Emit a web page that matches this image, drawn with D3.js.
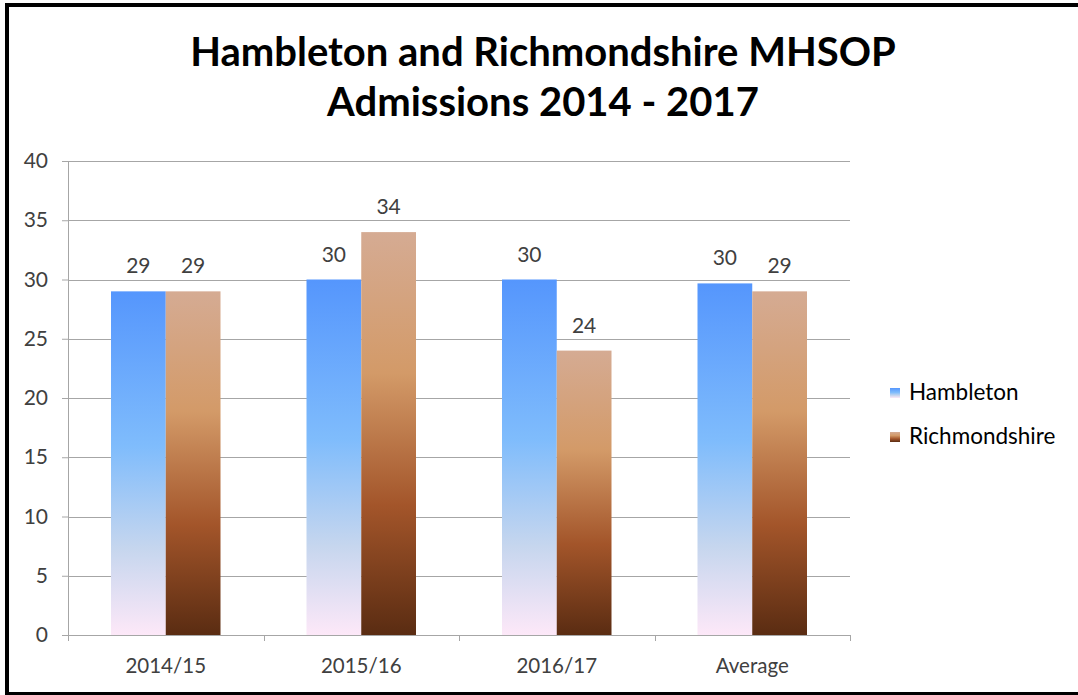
<!DOCTYPE html>
<html>
<head>
<meta charset="utf-8">
<script src="https://cdn.jsdelivr.net/npm/d3@7"></script>
<style>
  body { margin: 0; background: #fff; }
  svg text { font-family: Lato, "Open Sans", sans-serif; }
</style>
</head>
<body>
<div id="chart"></div>
<script>
// カテゴリと系列
var categories = ['2014/15', '2015/16', '2016/17', 'Average'];
var seriesNames = ['Hambleton', 'Richmondshire'];
var hambleton = [29, 30, 30, 29.67];
var richmondshire = [29, 34, 24, 29];
var yTicks = [0, 5, 10, 15, 20, 25, 30, 35, 40];
var titleLines = ['Hambleton and Richmondshire MHSOP', 'Admissions 2014 - 2017'];

var width = 1078;
var height = 695;
var margin = { top: 161, right: 228, bottom: 60, left: 68 };
var w = width - margin.left - margin.right;
var h = height - margin.top - margin.bottom;

var svg = d3.select('#chart').append('svg')
  .attr('width', width)
  .attr('height', height);

// グラデーション定義
var defs = svg.append('defs');
var gradStops = {
  Hambleton: [
    ['0%', '#5596fd'], ['45%', '#7fbcfc'], ['75%', '#c6d6ee'], ['100%', '#fde8f8']
  ],
  Richmondshire: [
    ['0%', '#d5ab93'], ['35%', '#d39a68'], ['68%', '#a3552a'], ['100%', '#5a2c12']
  ]
};
seriesNames.forEach(function(name) {
  var g = defs.append('linearGradient')
    .attr('id', 'grad-' + name)
    .attr('x1', 0).attr('y1', 0).attr('x2', 0).attr('y2', 1);
  gradStops[name].forEach(function(s) {
    g.append('stop').attr('offset', s[0]).attr('stop-color', s[1]);
  });
});

// 枠線
svg.append('line').attr('x1', 7).attr('x2', width).attr('y1', 5).attr('y2', 5)
  .attr('stroke', '#000').attr('stroke-width', 4);
svg.append('line').attr('x1', 7).attr('x2', 7).attr('y1', 3).attr('y2', 694)
  .attr('stroke', '#000').attr('stroke-width', 4);
svg.append('line').attr('x1', 5).attr('x2', width).attr('y1', 693.5).attr('y2', 693.5)
  .attr('stroke', '#000').attr('stroke-width', 3);

// タイトル
svg.append('text')
  .attr('text-anchor', 'middle')
  .attr('font-weight', 'bold')
  .attr('font-size', 40)
  .attr('fill', '#000')
  .selectAll('tspan').data(titleLines).enter()
  .append('tspan')
  .attr('x', 543)
  .attr('y', function(d, i) { return 66 + i * 50; })
  .text(function(d) { return d; });

var x0 = d3.scaleBand().domain(categories).range([0, w]).paddingInner(0).paddingOuter(0);
var x1 = d3.scaleBand().domain(seriesNames).range([43, x0.bandwidth() - 43]);
var y = d3.scaleLinear().domain([0, 40]).range([h, 0]);

var g = svg.append('g').attr('transform', 'translate(' + margin.left + ',' + margin.top + ')');

// グリッド
g.append('g').selectAll('line').data(yTicks.slice(1)).enter()
  .append('line')
  .attr('x1', 0).attr('x2', w)
  .attr('y1', function(d) { return Math.round(y(d)) + 0.5; })
  .attr('y2', function(d) { return Math.round(y(d)) + 0.5; })
  .attr('stroke', '#a6a6a6').attr('stroke-width', 1);

// Y軸
var yAxis = g.append('g')
  .call(d3.axisLeft(y).tickValues(yTicks).tickSize(6).tickPadding(14));
yAxis.select('.domain').attr('stroke', '#a6a6a6');
yAxis.selectAll('.tick line').attr('stroke', '#a6a6a6');
yAxis.selectAll('.tick text')
  .attr('font-size', 21).attr('fill', '#404040')
  .attr('font-family', 'Lato, sans-serif');

// X軸
var rows = categories.map(function(c, i) {
  return { cat: c, vals: [hambleton[i], richmondshire[i]] };
});

var xAxis = g.append('g').attr('transform', 'translate(0,' + h + ')');
xAxis.append('line').attr('x1', 0).attr('x2', w).attr('y1', 0.5).attr('y2', 0.5)
  .attr('stroke', '#a6a6a6');
xAxis.selectAll('.xtick').data(d3.range(categories.length + 1)).enter()
  .append('line')
  .attr('x1', function(i) { return Math.round(i * x0.step()) + 0.5; })
  .attr('x2', function(i) { return Math.round(i * x0.step()) + 0.5; })
  .attr('y1', 0).attr('y2', 6)
  .attr('stroke', '#a6a6a6');
xAxis.selectAll('.xlabel').data(categories).enter()
  .append('text')
  .attr('x', function(d) { return x0(d) + x0.bandwidth() / 2; })
  .attr('y', 38)
  .attr('text-anchor', 'middle')
  .attr('font-size', 20.5).attr('fill', '#404040')
  .text(function(d) { return d; });

// 棒
var catG = g.selectAll('.cat').data(rows).enter()
  .append('g')
  .attr('transform', function(d) { return 'translate(' + x0(d.cat) + ',0)'; });

var fmt = d3.format('.0f');
catG.selectAll('rect').data(function(d) {
  return d.vals.map(function(v, i) { return { name: seriesNames[i], v: v }; });
}).enter()
  .append('rect')
  .attr('x', function(d) { return x1(d.name); })
  .attr('width', x1.bandwidth())
  .attr('y', function(d) { return y(d.v); })
  .attr('height', function(d) { return h - y(d.v); })
  .attr('fill', function(d) { return 'url(#grad-' + d.name + ')'; });

catG.selectAll('.lbl').data(function(d) {
  return d.vals.map(function(v, i) { return { name: seriesNames[i], v: v }; });
}).enter()
  .append('text')
  .attr('x', function(d) { return x1(d.name) + x1.bandwidth() / 2; })
  .attr('y', function(d) { return y(d.v) - 18; })
  .attr('text-anchor', 'middle')
  .attr('font-size', 21).attr('fill', '#404040')
  .text(function(d) { return fmt(d.v); });

// 凡例
var legend = svg.append('g').attr('transform', 'translate(890,0)');
var legItems = legend.selectAll('g').data(seriesNames).enter()
  .append('g')
  .attr('transform', function(d, i) { return 'translate(0,' + (388 + i * 44) + ')'; });
legItems.append('rect')
  .attr('width', 10).attr('height', 10)
  .attr('fill', function(d) { return 'url(#grad-' + d + ')'; });
legItems.append('text')
  .attr('x', 19).attr('y', 12)
  .attr('font-size', 22.5).attr('fill', '#000')
  .text(function(d) { return d; });
</script>
</body>
</html>
